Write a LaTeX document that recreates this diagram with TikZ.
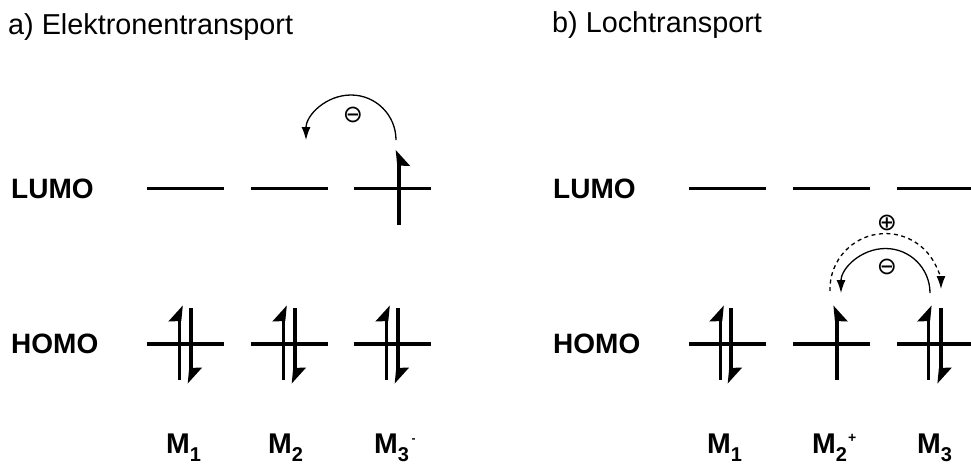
\documentclass[tikz,border=0pt]{standalone}
\usepackage{fontspec}
\setmainfont{Liberation Sans}
\newfontfamily\symfont{DejaVu Sans}
\usetikzlibrary{arrows.meta}
\begin{document}
\begin{tikzpicture}[x=1pt,y=-1pt,
  level/.style={fill=black,inner sep=0pt,minimum width=77pt,minimum height=3.5pt},
  shortlevel/.style={level,minimum width=75pt},
  titletext/.style={anchor=base west,inner sep=0pt,font=\fontsize{28.8}{30}\selectfont},
  orbtext/.style={anchor=base west,inner sep=0pt,font=\fontsize{28}{30}\selectfont\bfseries},
  moltext/.style={anchor=base west,inner sep=0pt,font=\fontsize{28.5}{30}\selectfont\bfseries},
  chargetext/.style={inner sep=0pt,font=\fontsize{24}{24}\selectfont\symfont},
  hop/.style={line width=1.3pt,-{Latex[length=13pt,width=9pt]}},
  hopdash/.style={hop,dash pattern=on 4pt off 3.5pt},
  spinupL/.pic={\draw[line width=3.6pt] (0,36) -- (0,-25);
                \fill (3.3,-38.5) -- (-11.2,-22.5) -- (1.8,-23) -- cycle;},
  spinupR/.pic={\draw[line width=3.6pt] (0,36) -- (0,-25);
                \fill (-3.3,-38.5) -- (11.2,-22.5) -- (-1.8,-23) -- cycle;},
  spindown/.pic={\draw[line width=3.6pt] (0,-36) -- (0,25);
                \fill (-3.3,39.5) -- (11.2,23.5) -- (-1.8,24) -- cycle;}
]
\useasboundingbox (0,0) rectangle (971,464);

% titles
\node[titletext] (ta) at (8,34) {a) Elektronentransport};
\node[titletext] (tb) at (552,32) {b) Lochtransport};

% orbital labels
\node[orbtext] (aLUMO) at (11,198) {LUMO};
\node[orbtext] (aHOMO) at (11,353) {HOMO};
\node[orbtext] (bLUMO) at (553,198) {LUMO};
\node[orbtext] (bHOMO) at (553,353) {HOMO};

% levels a)
\node[level] (aL1) at (185.5,188.5) {};
\node[level] (aL2) at (289.5,188.5) {};
\node[level] (aL3) at (392.5,188.5) {};
\node[level] (aH1) at (185.5,344) {};
\node[level] (aH2) at (289.5,344) {};
\node[level] (aH3) at (392.5,344) {};

% levels b)
\node[level] (bL1) at (727.5,188.5) {};
\node[level] (bL2) at (831,188.5) {};
\node[shortlevel] (bL3) at (934.5,188.5) {};
\node[level] (bH1) at (727.5,344) {};
\node[level] (bH2) at (831,344) {};
\node[shortlevel] (bH3) at (934.5,344) {};

% spins a)
\pic at ([xshift=-6pt]aH1.center) {spinupL};
\pic at ([xshift=5.5pt]aH1.center) {spindown};
\pic at ([xshift=-6pt]aH2.center) {spinupL};
\pic at ([xshift=5.5pt]aH2.center) {spindown};
\pic at ([xshift=-6pt]aH3.center) {spinupL};
\pic at ([xshift=5.5pt]aH3.center) {spindown};
\pic at ([xshift=6.5pt]aL3.center) {spinupR};

% spins b)
\pic at ([xshift=-7pt]bH1.center) {spinupL};
\pic at ([xshift=3.5pt]bH1.center) {spindown};
\pic at ([xshift=5.7pt]bH2.center) {spinupR};
\pic at ([xshift=-6.2pt]bH3.center) {spinupL};
\pic at ([xshift=6.2pt]bH3.center) {spindown};

% hopping arrows
\coordinate (aHopS) at (396,140);
\draw[hop] (aHopS) arc[start angle=0,end angle=180,radius=45pt];
\node[chargetext] (aMinus) at (353,115) {⊖};

\coordinate (bHopS) at (930,293);
\draw[hop] (bHopS) arc[start angle=0,end angle=180,radius=44.5pt];
\node[chargetext] (bMinus) at (887,267) {⊖};

\coordinate (bHoleS) at (830,291);
\draw[hopdash] (bHoleS) arc[start angle=182,end angle=0,radius=55.5pt];
\node[chargetext] (bPlus) at (887,223) {⊕};

% molecule labels
\node[moltext] (aM1) at (166,453) {M\raisebox{-8.5pt}{\fontsize{20}{20}\selectfont 1}};
\node[moltext] (aM2) at (268,453) {M\raisebox{-8.5pt}{\fontsize{20}{20}\selectfont 2}};
\node[moltext] (aM3) at (374,453) {M\raisebox{-8.5pt}{\fontsize{20}{20}\selectfont 3}\raisebox{11pt}{\fontsize{12}{12}\selectfont\hspace{2.5pt}-}};
\node[moltext] (bM1) at (707,453) {M\raisebox{-8.5pt}{\fontsize{20}{20}\selectfont 1}};
\node[moltext] (bM2) at (812,453) {M\raisebox{-8.5pt}{\fontsize{20}{20}\selectfont 2}\raisebox{11pt}{\fontsize{14}{14}\selectfont\hspace{1pt}+}};
\node[moltext] (bM3) at (917,453) {M\raisebox{-8.5pt}{\fontsize{20}{20}\selectfont 3}};
\end{tikzpicture}
\end{document}
